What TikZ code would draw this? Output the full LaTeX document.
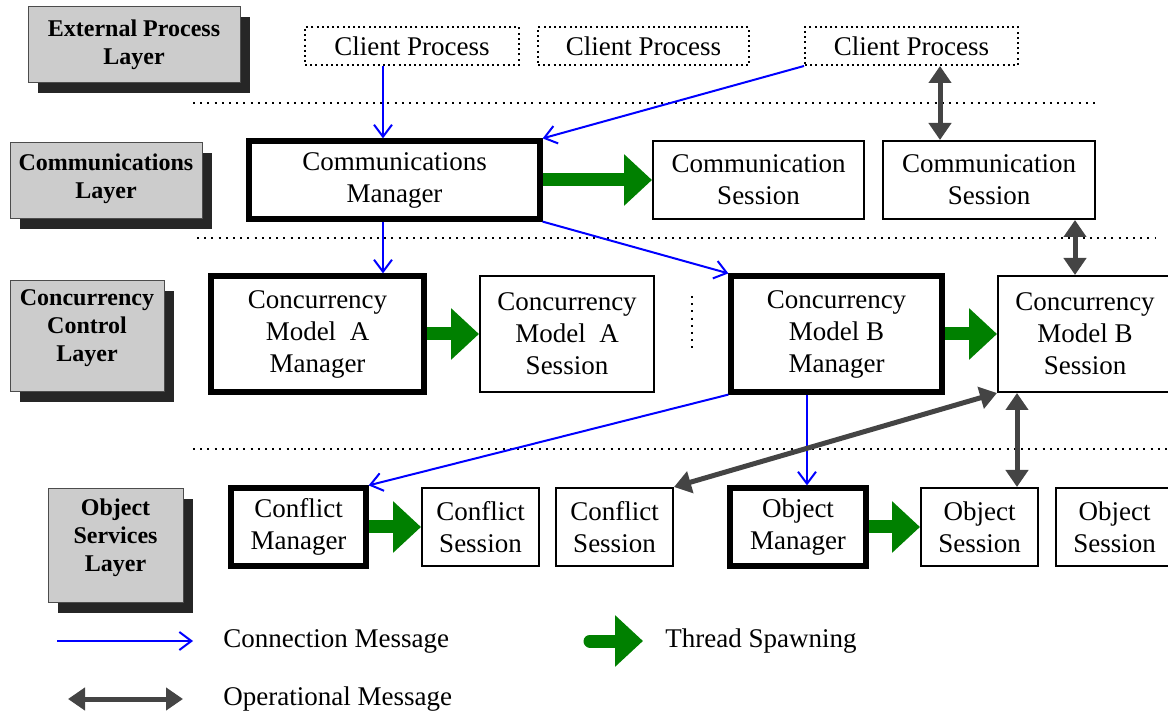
\documentclass[tikz,border=0pt]{standalone}
\usepackage{fontspec}
\setmainfont{Liberation Serif}
\usepackage{tikz}
\usetikzlibrary{arrows.meta, positioning, shadows}
\definecolor{cblue}{RGB}{0, 0, 255}
\definecolor{sgreen}{RGB}{0, 128, 0}
\definecolor{ogray}{RGB}{68, 68, 68}
\definecolor{lgray}{RGB}{204, 204, 204}
\definecolor{shgray}{RGB}{38, 38, 38}

\begin{document}
\begin{tikzpicture}[
      x=0.5pt, y=-0.5pt,
      every node/.style={inner sep=0pt, align=center},
      layer/.style ={draw=black!70, line width=0.5pt, fill=lgray,
                     font=\fontsize{12}{14}\selectfont\bfseries,
                     drop shadow={shadow xshift=5pt, shadow yshift=-5pt,
                                  opacity=1, fill=shgray}},
      cbox/.style  ={draw, line width=1pt, dash pattern=on 1pt off 1.6pt,
                     minimum height=19pt, font=\fontsize{13.5}{16}\selectfont},
      sbox/.style  ={draw, line width=1pt, font=\fontsize{13.5}{16}\selectfont},
      mbox/.style  ={sbox, line width=2.6pt},
      conn/.style  ={cblue, line width=1pt, -{Straight Barb[length=6pt, width=9pt]}},
      spawn/.style ={sgreen, line width=6.5pt, -{Triangle[length=14pt, width=25pt]}},
      oper/.style  ={ogray, line width=2.5pt,
                     {Triangle[length=8.5pt, width=11pt]}-{Triangle[length=8.5pt, width=11pt]}},
      sep/.style   ={line width=1pt, dash pattern=on 1pt off 2.6pt},
      legtxt/.style={anchor=west, font=\fontsize{13.5}{16}\selectfont},
    ]
      \useasboundingbox (0,0) rectangle (1168,716);
      % external process layer
      \node[layer, minimum width=106pt, minimum height=38pt] (extl) at (134,45) {External Process\\Layer};
      \node[cbox, minimum width=107pt]   (cp1) at (412,46)   {Client Process};
      \node[cbox, minimum width=105.5pt] (cp2) at (643.5,46) {Client Process};
      \node[cbox, minimum width=106.5pt] (cp3) at (911.5,46) {Client Process};
      % communications layer
      \node[layer, minimum width=96pt, minimum height=38pt, text depth=5pt] (comml) at (106,181) {Communications\\Layer};
      \node[mbox, minimum width=145.5pt, minimum height=39pt] (cmgr) at (394.5,180) {Communications\\Manager};
      \node[sbox, minimum width=105.5pt, minimum height=39pt] (cs1)  at (758.5,180) {Communication\\Session};
      \node[sbox, minimum width=106pt, minimum height=39pt]   (cs2)  at (989,180)   {Communication\\Session};
      % concurrency control layer
      \node[layer, minimum width=77pt, minimum height=55.5pt, text depth=11pt] (ccl) at (87,336.5) {Concurrency\\Control\\Layer};
      \node[mbox, minimum width=106.5pt, minimum height=58pt] (cma)  at (317.5,334)  {Concurrency\\Model~~A\\Manager};
      \node[sbox, minimum width=87pt, minimum height=58pt]    (cmas) at (567,334)    {Concurrency\\Model~~A\\Session};
      \node[mbox, minimum width=105.5pt, minimum height=58pt] (cmb)  at (836.5,334)  {Concurrency\\Model B\\Manager};
      \node[sbox, minimum width=87pt, minimum height=58pt]    (cmbs) at (1085,334)   {Concurrency\\Model B\\Session};
      % object services layer
      \node[layer, minimum width=67.5pt, minimum height=57pt, text depth=11pt] (osl) at (115.5,546) {Object\\Services\\Layer};
      \node[mbox, minimum width=67.5pt, minimum height=39pt] (cfm)  at (298.5,527)  {Conflict\\Manager};
      \node[sbox, minimum width=58.5pt, minimum height=39pt] (cfs1) at (480.5,527)  {Conflict\\Session};
      \node[sbox, minimum width=58.5pt, minimum height=39pt] (cfs2) at (614.5,527)  {Conflict\\Session};
      \node[mbox, minimum width=68pt, minimum height=39pt]   (omgr) at (798,527)    {Object\\Manager};
      \node[sbox, minimum width=58.5pt, minimum height=39pt] (os1)  at (979.5,527)  {Object\\Session};
      \node[sbox, minimum width=58.5pt, minimum height=39pt] (os2)  at (1114.5,527) {Object\\Session};
      % layer separators
      \draw[sep] (193,103) -- (1097,103);
      \draw[sep] (197,238) -- (1155,238);
      \draw[sep] (193,449) -- (1168,449);
      \draw[sep] (692,296) -- (692,352);
      % connection messages
      \draw[conn] ([xshift=-14.5pt]cp1.south) -- ([xshift=-5.75pt]cmgr.north);
      \draw[conn] (cp3.south west) -- (cmgr.north east);
      \draw[conn] ([xshift=-5.75pt]cmgr.south) -- ([xshift=32.75pt]cma.north);
      \draw[conn] (cmgr.south east) -- (cmb.north west);
      \draw[conn] (cmb.south west) -- (cfm.north east);
      \draw[conn] ([xshift=-14.75pt]cmb.south) -- ([xshift=4.5pt]omgr.north);
      % thread spawning
      \draw[spawn] (cmgr.east) -- (cs1.west);
      \draw[spawn] (cma.east)  -- (cmas.west);
      \draw[spawn] (cmb.east)  -- (cmbs.west);
      \draw[spawn] (cfm.east)  -- (cfs1.west);
      \draw[spawn] (omgr.east) -- (os1.west);
      % operational messages
      \draw[oper] ([xshift=14.25pt]cp3.south) -- ([xshift=-24.5pt]cs2.north);
      \draw[oper] ([xshift=43pt]cs2.south) -- ([xshift=-5pt]cmbs.north);
      \draw[oper] (cmbs.south west) -- (cfs2.north east);
      \draw[oper] ([xshift=-34pt]cmbs.south) -- ([xshift=18.75pt]os1.north);
      % legend
      \coordinate (lc1) at (57,641);
      \coordinate (lc2) at (193,641);
      \draw[conn] (lc1) -- (lc2);
      \node[legtxt] (lcm) at (223,641) {Connection Message};
      \coordinate (ls1) at (590,641);
      \coordinate (ls2) at (643,641);
      \draw[spawn, line cap=round] (ls1) -- (ls2);
      \node[legtxt] (lts) at (665,641) {Thread Spawning};
      \coordinate (lo1) at (68,699);
      \coordinate (lo2) at (183,699);
      \draw[oper] (lo1) -- (lo2);
      \node[legtxt] (lom) at (223,699) {Operational Message};
    \end{tikzpicture}
\end{document}
